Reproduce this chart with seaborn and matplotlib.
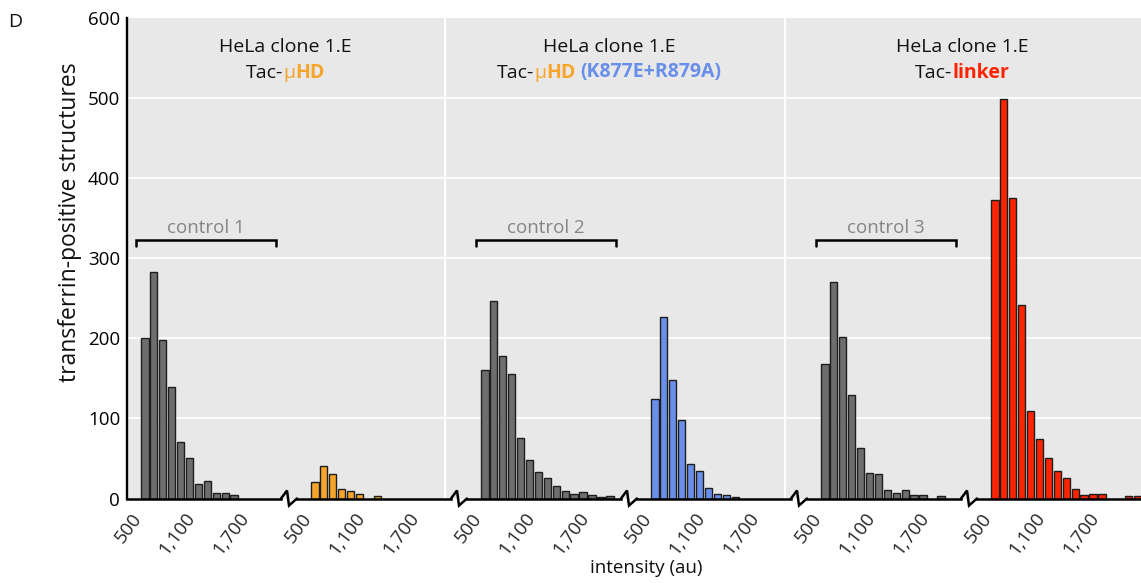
import numpy as np
import pandas as pd
import matplotlib
matplotlib.use("Agg")
import matplotlib.pyplot as plt
import seaborn as sns
from matplotlib.lines import Line2D
from matplotlib.transforms import ScaledTranslation

# ---------------- data ----------------
bin_start = 600   # centre of first bin (au)
bin_step = 100

ctrl1 = [201, 283, 198, 139, 70, 50, 18, 22, 7, 7, 4]
muhd = [21, 40, 30, 12, 9, 5, 0, 3]
ctrl2 = [161, 247, 178, 156, 75, 48, 33, 25, 16, 9, 5, 8, 4, 2, 3]
muhd_mut = [124, 227, 148, 98, 43, 34, 13, 6, 4, 2]
ctrl3 = [168, 271, 202, 129, 63, 32, 30, 10, 7, 10, 4, 4, 0, 3]
linker = [373, 499, 375, 242, 109, 74, 50, 34, 25, 12, 4, 6, 5, 0, 0, 3, 3]

series = [ctrl1, muhd, ctrl2, muhd_mut, ctrl3, linker]
series_colors = ["#6e6e6e", "#F7A42A", "#6E6E6E", "#6A8FEA", "#6E6E6E", "#FF2400"]
control_labels = ["control 1", "control 2", "control 3"]
x_ticks = [500, 800, 1100, 1400, 1700, 2000]
x_ticklabels = ["500", "", "1,100", "", "1,700", ""]
y_ticks = [0, 100, 200, 300, 400, 500, 600]

# ---------------- style ----------------
sns.set_style("white")
plt.rcParams["font.family"] = ["Open Sans", "DejaVu Sans"]
FS = 13.5

W, H = 1141, 583
fig = plt.figure(figsize=(W / 100, H / 100), dpi=100)


def fx(px):
    return px / W


def fy(py):
    return 1 - py / H


Y0, Y600 = 498.5, 18.3
AX_L = 127

# background axes (grey panel, grid, y axis)
bg = fig.add_axes([fx(AX_L), fy(Y0), fx(W - AX_L), (Y0 - Y600) / H])
bg.set_facecolor("#E8E8E8")
bg.set_xlim(AX_L, W)
bg.set_ylim(0, 600)
bg.set_xticks([])
bg.set_yticks(y_ticks)
bg.set_yticklabels([str(v) for v in y_ticks], fontsize=FS)
bg.tick_params(axis="y", direction="in", length=5, width=1.8, pad=5, colors="black")
for v in y_ticks[1:-1]:
    bg.axhline(v, color="white", lw=1.3, zorder=0)
for xv in [445, 785]:
    bg.axvline(xv, color="white", lw=1.5, zorder=0)
for s in ["top", "right", "bottom"]:
    bg.spines[s].set_visible(False)
bg.spines["left"].set_linewidth(1.7)
bg.spines["left"].set_color("black")

# broken x-axis segments
PERIOD = 170
SEG_W = 154
XMIN, XMAX = 400, 2125
scale = SEG_W / (XMAX - XMIN)
label_shift = ScaledTranslation(-5 / 100, -4 / 100, fig.dpi_scale_trans)

seg_axes = []
for i, (vals, col) in enumerate(zip(series, series_colors)):
    left = AX_L + PERIOD * i
    if i < 5:
        width = SEG_W
        xmax = XMAX
    else:
        width = W - left
        xmax = XMIN + width / scale
    ax = fig.add_axes([fx(left), fy(Y0), fx(width), (Y0 - Y600) / H])
    ax.patch.set_alpha(0)
    centers = [bin_start + bin_step * k for k in range(len(vals))]
    df = pd.DataFrame({"x": centers, "y": vals})
    df = df[df["y"] > 0]
    sns.barplot(data=df, x="x", y="y", native_scale=True, width=0.82,
                color=col, saturation=1, edgecolor="#1e1e1e", linewidth=1.0,
                errorbar=None, ax=ax, zorder=2)
    ax.set_xlim(XMIN, xmax)
    ax.set_ylim(0, 600)
    ax.set_xlabel("")
    ax.set_ylabel("")
    ax.set_yticks([])
    ax.set_xticks(x_ticks)
    ax.set_xticklabels(x_ticklabels, fontsize=FS)
    ax.tick_params(axis="x", direction="in", length=4, width=1.8, pad=5)
    for lab in ax.get_xticklabels():
        lab.set_rotation(53)
        lab.set_ha("right")
        lab.set_va("top")
        lab.set_rotation_mode("anchor")
        lab.set_transform(lab.get_transform() + label_shift)
    ax.set_axisbelow(False)
    for s in ["top", "right", "left"]:
        ax.spines[s].set_visible(False)
    ax.spines["bottom"].set_linewidth(1.8)
    ax.spines["bottom"].set_color("black")
    ax.grid(False)
    seg_axes.append(ax)

# controls bracket + label
for j, lab in enumerate(control_labels):
    ax = seg_axes[2 * j]
    ax.plot([500, 500, 2070, 2070], [316, 322.5, 322.5, 316], color="black",
            lw=1.8, solid_joinstyle="miter", clip_on=False, zorder=3)
    ax.text(1285, 332, lab, ha="center", va="baseline", color="#858585", fontsize=FS)

# break marks
for i in range(5):
    r = AX_L + PERIOD * i + SEG_W
    l = AX_L + PERIOD * (i + 1)
    xs = [r, r + 6, r + 8, l]
    ys = [Y0, Y0 - 8, Y0 + 7, Y0]
    fig.add_artist(Line2D([fx(v) for v in xs], [fy(v) for v in ys],
                          transform=fig.transFigure, color="black", lw=1.8,
                          solid_joinstyle="miter"))

# titles (multi-coloured)
fig.canvas.draw()
renderer = fig.canvas.get_renderer()


def colored_line(cx, base_y, parts, size):
    texts = []
    for s, color, weight, gap in parts:
        t = fig.text(0, fy(base_y), s, color=color, fontsize=size,
                     fontweight=weight, ha="left", va="baseline")
        texts.append((t, gap))
    widths = [t.get_window_extent(renderer).width for t, _ in texts]
    gaps = [g for _, g in texts]
    total = sum(widths) + sum(gaps)
    x = cx - total / 2
    for (t, g), w in zip(texts, widths):
        x += g
        t.set_x(fx(x))
        x += w


SP = 4.5
TFS = 14
panel_cx = [285, 609, 962]
for cx in panel_cx:
    colored_line(cx, 51.5, [("HeLa clone 1.E", "#111111", "normal", 0)], TFS)

colored_line(panel_cx[0], 77.5, [("Tac-", "#111111", "normal", 0),
                                 ("\u03bc", "#F7A42A", "normal", 0.5),
                                 ("HD", "#F7A42A", "bold", 0)], TFS)
colored_line(panel_cx[1], 77.5, [("Tac-", "#111111", "normal", 0),
                                 ("\u03bc", "#F7A42A", "normal", 0.5),
                                 ("HD", "#F7A42A", "bold", 0),
                                 ("(K877E+R879A)", "#6A8FEA", "bold", SP)], TFS)
colored_line(panel_cx[2], 77.5, [("Tac-", "#111111", "normal", 0),
                                 ("linker", "#FF2400", "bold", 0.5)], TFS)

fig.text(fx(8), fy(27), "D", fontsize=TFS, ha="left", va="baseline", color="#111111")
fig.text(fx(70), fy(222), "transferrin-positive structures", fontsize=16.5,
         rotation=90, ha="center", va="center", color="#111111")
fig.text(fx(646), fy(573), "intensity (au)", fontsize=FS, ha="center", va="baseline",
         color="#111111")

fig.savefig("out.png", dpi=100)
